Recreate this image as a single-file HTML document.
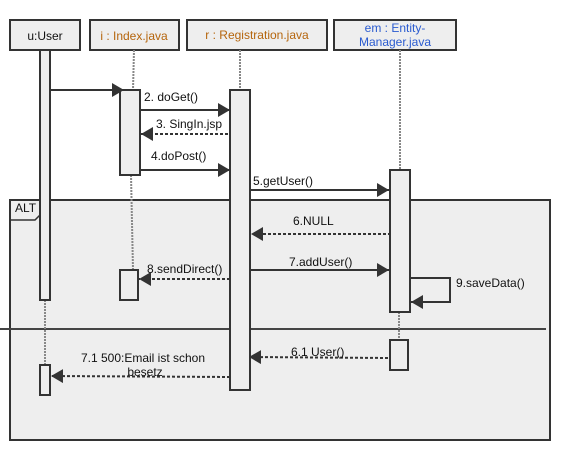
<!DOCTYPE html>
<html><head><meta charset="utf-8"><style>
html,body{margin:0;padding:0;background:#fff;}
svg{display:block;}
text{font-family:"Liberation Sans",Arial,sans-serif;font-size:12px;fill:#111;}
</style></head><body>
<svg width="570" height="460" viewBox="0 0 570 460" xmlns="http://www.w3.org/2000/svg">
<defs>
<marker id="a" viewBox="0 0 12 14" refX="12" refY="7" markerWidth="12" markerHeight="14" markerUnits="userSpaceOnUse" orient="auto"><path d="M0,0 L12,7 L0,14 Z" fill="#333"/></marker>
</defs>
<!-- alt frame -->
<rect x="10" y="200" width="540" height="240" fill="#eeeeee" stroke="#333" stroke-width="2"/>
<path d="M10,220 L35,220 L40,215 L40,200" fill="none" stroke="#333" stroke-width="1.5"/>
<text x="15" y="212">ALT</text>
<line x1="0" y1="329" x2="546" y2="329" stroke="#444" stroke-width="2"/>

<!-- headers -->
<g stroke="#333" stroke-width="2" fill="#eeeeee">
<rect x="10" y="20" width="70" height="30"/>
<rect x="90" y="20" width="89" height="30"/>
<rect x="187" y="20" width="140" height="30"/>
<rect x="334" y="20" width="122" height="30"/>
</g>
<text x="45" y="40" text-anchor="middle">u:User</text>
<text x="134" y="40" text-anchor="middle" style="fill:#b5650d">i : Index.java</text>
<text x="257" y="39" text-anchor="middle" style="fill:#b5650d">r : Registration.java</text>
<text x="395" y="32" text-anchor="middle" style="fill:#2a5bd0">em : Entity-</text>
<text x="395" y="46" text-anchor="middle" style="fill:#2a5bd0">Manager.java</text>

<!-- dotted lifelines -->
<g stroke="#888" stroke-width="2" stroke-dasharray="2,1" fill="none">
<line x1="134" y1="50" x2="133" y2="90"/>
<line x1="131" y1="175" x2="133" y2="270"/>
<line x1="240" y1="50" x2="240" y2="90"/>
<line x1="400" y1="50" x2="400" y2="170"/>
<line x1="399" y1="312" x2="399" y2="340"/>
<line x1="45" y1="300" x2="45" y2="365"/>
</g>

<!-- activations -->
<g stroke="#333" stroke-width="2" fill="#eeeeee">
<rect x="40" y="50" width="10" height="250"/>
<rect x="40" y="365" width="10" height="30"/>
<rect x="120" y="90" width="20" height="85"/>
<rect x="120" y="270" width="18" height="30"/>
<rect x="230" y="90" width="20" height="300"/>
<rect x="390" y="170" width="20" height="142"/>
<rect x="390" y="340" width="18" height="30"/>
</g>

<!-- messages -->
<g stroke="#333" stroke-width="2" fill="none">
<line x1="50" y1="90" x2="124" y2="90" marker-end="url(#a)"/>
<line x1="140" y1="110" x2="230" y2="110" marker-end="url(#a)"/>
<line x1="228" y1="134" x2="141" y2="134" stroke-dasharray="3,2" marker-end="url(#a)"/>
<line x1="140" y1="170" x2="230" y2="170" marker-end="url(#a)"/>
<line x1="250" y1="190" x2="389" y2="190" marker-end="url(#a)"/>
<line x1="391" y1="234" x2="251" y2="234" stroke-dasharray="3,2" marker-end="url(#a)"/>
<line x1="250" y1="270" x2="389" y2="270" marker-end="url(#a)"/>
<path d="M410,278 L450,278 L450,302 L411,302" marker-end="url(#a)"/>
<line x1="230" y1="279" x2="139" y2="279" stroke-dasharray="3,2" marker-end="url(#a)"/>
<line x1="388" y1="358" x2="249" y2="357" stroke-dasharray="3,2" marker-end="url(#a)"/>
<line x1="230" y1="377" x2="51" y2="376" stroke-dasharray="3,2" marker-end="url(#a)"/>
</g>

<text x="144" y="101">2. doGet()</text>
<text x="156" y="128">3. SingIn.jsp</text>
<text x="151" y="160">4.doPost()</text>
<text x="253" y="185">5.getUser()</text>
<text x="293" y="225">6.NULL</text>
<text x="289" y="266">7.addUser()</text>
<text x="456" y="287">9.saveData()</text>
<text x="147" y="273">8.sendDirect()</text>
<text x="291" y="356">6.1 User()</text>
<text x="143" y="362" text-anchor="middle">7.1 500:Email ist schon</text>
<text x="145" y="376" text-anchor="middle">besetz</text>
</svg>
</body></html>
